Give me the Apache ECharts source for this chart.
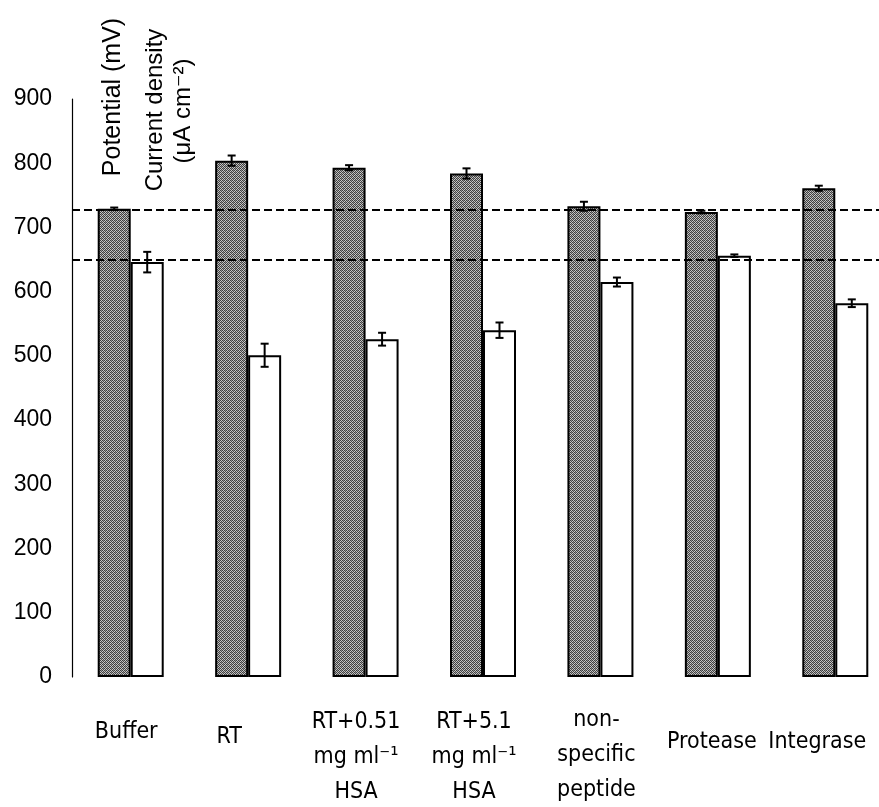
<!DOCTYPE html>
<html>
<head>
<meta charset="utf-8">
<script src="https://cdn.jsdelivr.net/npm/echarts@6/dist/echarts.min.js"></script>
<style>
  html, body { margin: 0; padding: 0; background: #fff; }
  #chart { width: 879px; height: 807px; }
</style>
</head>
<body>
<div id="chart"></div>
<script>
// ---- data ----
const categories = ['Buffer', 'RT', 'RT+0.51\nmg ml\u207B\u00B9\nHSA', 'RT+5.1\nmg ml\u207B\u00B9\nHSA', 'non-\nspecific\npeptide', 'Protease', 'Integrase'];
const potential = [729, 804, 793, 784, 733, 724, 761];
const potentialErr = [2, 8, 4, 8, 7, 2, 4];
const current = [646, 501, 526, 540, 615, 656, 582];
const currentErr = [16, 18, 10, 12, 7, 2, 6];
const referenceLines = [727, 650];
const yMin = 0, yMax = 900, yStep = 100;
const headerPotential = 'Potential (mV)';
const headerCurrent1 = 'Current density';
const headerCurrent2 = '(\u03BCA cm\u207B\u00B2)';

// ---- styles ----
const BAR_W = 33;
// per-label padding [top, right, bottom, left] to mimic the original label placement
const labelPads = [[12, 9, 0, 0], [17, 38, 0, 0], [2, 19, 0, 0], [2, 18, 0, 0], [0, 8, 0, 0], [22, 12, 0, 0], [22, 36, 0, 0]];
const xFont = '"Liberation Sans Narrow", "DejaVu Sans Condensed", "Liberation Sans", sans-serif';
const yFont = '"Liberation Sans", Arial, sans-serif';

function makePattern() {
  const c = document.createElement('canvas');
  c.width = 4; c.height = 4;
  const g = c.getContext('2d');
  const cols = [
    ['#3c3c3c', '#c8c8c8', '#3c3c3c', '#909090'],
    ['#c8c8c8', '#464646', '#c0c0c0', '#464646'],
    ['#3c3c3c', '#909090', '#3c3c3c', '#c8c8c8'],
    ['#c0c0c0', '#464646', '#c8c8c8', '#464646']
  ];
  for (let y = 0; y < 4; y++) for (let x = 0; x < 4; x++) {
    g.fillStyle = cols[y][x]; g.fillRect(x, y, 1, 1);
  }
  return c;
}

const errData = [];
potential.forEach((v, i) => errData.push([i, v, potentialErr[i], 0]));
current.forEach((v, i) => errData.push([i, v, currentErr[i], 1]));

const chart = echarts.init(document.getElementById('chart'), null, { renderer: 'canvas' });

const option = {
  animation: false,
  backgroundColor: '#ffffff',
  grid: { left: 72, right: -15, top: 99, bottom: 130, containLabel: false, outerBoundsMode: 'none' },
  xAxis: {
    type: 'category',
    data: categories.map((c, i) => ({
      value: c,
      textStyle: { padding: labelPads[i] }
    })),
    axisLine: { show: false },
    axisTick: { show: false },
    axisLabel: {
      interval: 0,
      margin: 26,
      lineHeight: 35,
      fontSize: 23,
      fontFamily: xFont,
      color: '#000'
    },
    splitLine: { show: false }
  },
  yAxis: {
    type: 'value',
    min: yMin, max: yMax, interval: yStep,
    axisLine: { show: true, lineStyle: { color: '#000', width: 1.2 } },
    axisTick: { show: false },
    axisLabel: { margin: 20, fontSize: 23, fontFamily: yFont, color: '#000' },
    splitLine: { show: false }
  },
  series: [
    {
      name: 'Potential (mV)',
      type: 'bar',
      data: potential,
      barWidth: BAR_W,
      barGap: '0%',
      itemStyle: {
        color: { image: makePattern(), repeat: 'repeat' },
        borderColor: '#000',
        borderWidth: 2
      },
      markLine: {
        silent: true,
        symbol: ['none', 'none'],
        label: { show: false },
        lineStyle: { color: '#000', width: 2, type: [8, 4] },
        data: referenceLines.map(v => ({ yAxis: v }))
      },
      z: 2
    },
    {
      name: 'Current density',
      type: 'bar',
      data: current,
      barWidth: BAR_W,
      itemStyle: { color: '#fff', borderColor: '#000', borderWidth: 2 },
      z: 2
    },
    {
      type: 'custom',
      data: errData,
      encode: { x: 0, y: 1 },
      z: 10,
      renderItem: function (params, api) {
        const idx = api.value(0), v = api.value(1), e = api.value(2), s = api.value(3);
        const c = api.coord([idx, v]);
        const half = BAR_W / 2;
        const x = c[0] + (s === 0 ? -half : half);
        const yt = api.coord([idx, v + e])[1];
        const yb = api.coord([idx, v - e])[1];
        const cap = 4;
        const st = { stroke: '#000', lineWidth: 2 };
        return {
          type: 'group',
          children: [
            { type: 'line', shape: { x1: x, y1: yt, x2: x, y2: yb }, style: st },
            { type: 'line', shape: { x1: x - cap, y1: yt, x2: x + cap, y2: yt }, style: st },
            { type: 'line', shape: { x1: x - cap, y1: yb, x2: x + cap, y2: yb }, style: st }
          ]
        };
      }
    }
  ],
  graphic: [
    {
      type: 'text', x: 113, y: 97, rotation: Math.PI / 2,
      style: { text: headerPotential, font: '25px "Liberation Sans", Arial, sans-serif', fill: '#000', align: 'center', verticalAlign: 'middle' }
    },
    {
      type: 'text', x: 155, y: 110, rotation: Math.PI / 2,
      style: { text: headerCurrent1, font: '24px "Liberation Sans", Arial, sans-serif', fill: '#000', align: 'center', verticalAlign: 'middle' }
    },
    {
      type: 'text', x: 183, y: 111, rotation: Math.PI / 2,
      style: { text: headerCurrent2, font: '24px "Liberation Sans", "DejaVu Sans", sans-serif', fill: '#000', align: 'center', verticalAlign: 'middle' }
    }
  ]
};

chart.setOption(option);
</script>
</body>
</html>
